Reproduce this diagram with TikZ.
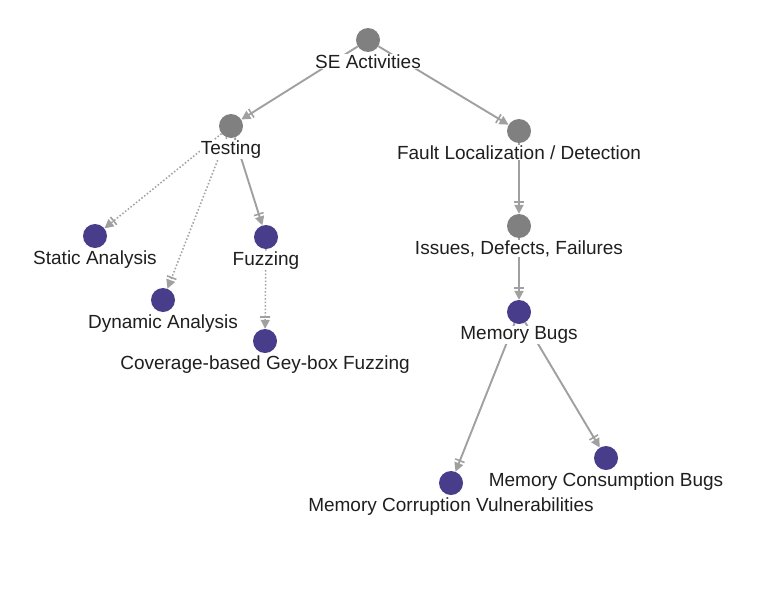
\documentclass[tikz,border=0pt]{standalone}
\usepackage{fontspec}
\setmainfont{Liberation Sans}
\usetikzlibrary{
    arrows.meta,
    positioning
}
\definecolor{TopicGrey}{RGB}{128,128,128}
\definecolor{LeafPurple}{RGB}{72,61,139}
\definecolor{EdgeGrey}{RGB}{160,160,160}

\begin{document}
\begin{tikzpicture}[
    x=1pt, y=-1pt,
    dot/.style    = {circle, minimum size=24pt, inner sep=0pt},
    topic/.style  = {dot, fill=TopicGrey},
    leaf/.style   = {dot, fill=LeafPurple},
    lbl/.style    = {fill=white, inner sep=0.5pt, text=black!88,
                     font=\fontsize{19}{22}\selectfont},
    arr/.style    = {-{Bar[width=10pt,line width=1.6pt,sep=2pt]Triangle[length=9pt,width=9pt]},
                     line width=1.9pt, color=EdgeGrey},
    arrd/.style   = {arr, line width=1.5pt, dotted},
  ]

  \fill[white] (0,0) rectangle (768,589);
  \useasboundingbox (0,0) rectangle (768,589);

  % nodes
  \node[topic] (se)     at (368,40)  {};
  \node[topic] (test)   at (231,126) {};
  \node[topic] (fault)  at (519,131) {};
  \node[topic] (issues) at (519,226) {};
  \node[leaf]  (mem)    at (519,312) {};
  \node[leaf]  (static) at (95,236)  {};
  \node[leaf]  (fuzz)   at (266,237) {};
  \node[leaf]  (dyn)    at (163,300) {};
  \node[leaf]  (cov)    at (265,341) {};
  \node[leaf]  (cons)   at (606,458) {};
  \node[leaf]  (corr)   at (451,483) {};

  % edges
  \draw[arr]  (se)     -- (test);
  \draw[arr]  (se)     -- (fault);
  \draw[arrd] (test)   -- (static);
  \draw[arrd] (test)   -- (dyn);
  \draw[arr]  (test)   -- (fuzz);
  \draw[arrd] (fuzz)   -- (cov);
  \draw[arr]  (fault)  -- (issues);
  \draw[arr]  (issues) -- (mem);
  \draw[arr]  (mem)    -- (corr);
  \draw[arr]  (mem)    -- (cons);

  % labels
  \node[lbl, below=1.5pt of se]     (se-l)     {SE Activities};
  \node[lbl, below=1.5pt of test]   (test-l)   {Testing};
  \node[lbl, below=1.5pt of fault]  (fault-l)  {Fault Localization / Detection};
  \node[lbl, below=1.5pt of issues] (issues-l) {Issues, Defects, Failures};
  \node[lbl, below=1.5pt of mem]    (mem-l)    {Memory Bugs};
  \node[lbl, below=1.5pt of static] (static-l) {Static Analysis};
  \node[lbl, below=1.5pt of fuzz]   (fuzz-l)   {Fuzzing};
  \node[lbl, below=1.5pt of dyn]    (dyn-l)    {Dynamic Analysis};
  \node[lbl, below=1.5pt of cov]    (cov-l)    {Coverage-based Gey-box Fuzzing};
  \node[lbl, below=1.5pt of cons]   (cons-l)   {Memory Consumption Bugs};
  \node[lbl, below=1.5pt of corr]   (corr-l)   {Memory Corruption Vulnerabilities};

\end{tikzpicture}
\end{document}
